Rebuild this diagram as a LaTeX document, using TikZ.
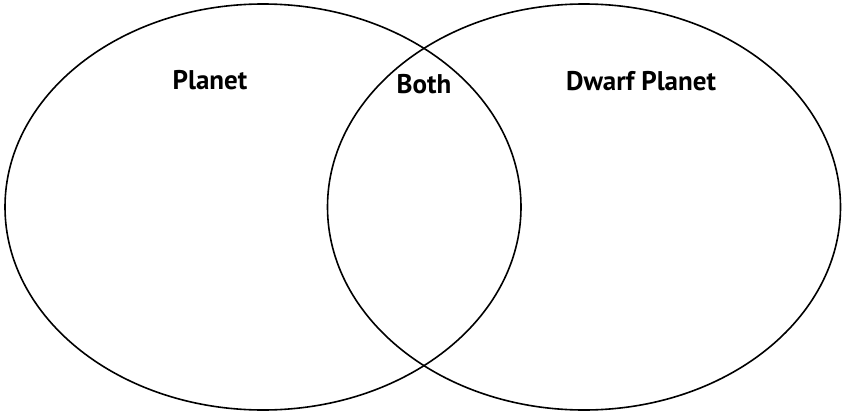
\documentclass[tikz,border=0pt]{standalone}
\usepackage{fontspec}
\setmainfont{PT Sans}
\usetikzlibrary{positioning,shapes.geometric}

\begin{document}
\begin{tikzpicture}[x=1pt,y=-1pt,
  set/.style={ellipse, draw, line width=1.6pt, inner sep=0pt},
  setlabel/.style={font=\fontsize{27}{32}\selectfont\bfseries, inner sep=0pt}]
\useasboundingbox (0,0) rectangle (846,415);
\node[set, minimum width=516pt, minimum height=406pt] (planet) at (263,207) {};
\node[set, minimum width=513pt, minimum height=406pt] (dwarf) at (584,207) {};
\node[setlabel] (planetlbl) at (210,80) {Planet};
\node[setlabel] (bothlbl) at (424,84) {Both};
\node[setlabel] (dwarflbl) at (641,81) {Dwarf Planet};
\end{tikzpicture}
\end{document}
